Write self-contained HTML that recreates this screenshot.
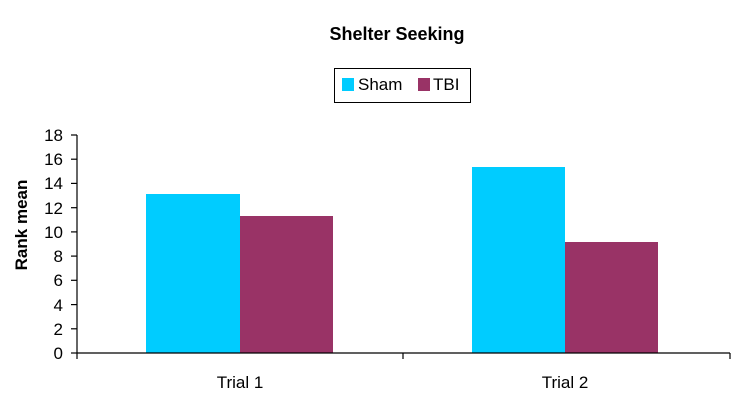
<!DOCTYPE html>
<html><head><style>body{margin:0;background:#fff}</style></head><body>
<svg width="741" height="402" xmlns="http://www.w3.org/2000/svg" font-family="Liberation Sans, Arial, sans-serif">
<rect width="741" height="402" fill="#fff"/>
<text x="397" y="40" font-size="18" font-weight="bold" text-anchor="middle">Shelter Seeking</text>
<rect x="334.5" y="68.5" width="136" height="34" fill="#fff" stroke="#000"/>
<rect x="342" y="78" width="12" height="13" fill="#00CCFF"/>
<text x="358" y="90" font-size="17">Sham</text>
<rect x="418" y="78" width="12" height="13" fill="#993366"/>
<text x="433" y="90" font-size="17">TBI</text>
<rect x="146" y="194" width="94" height="159" fill="#00CCFF"/>
<rect x="240" y="216" width="93" height="137" fill="#993366"/>
<rect x="472" y="167" width="93" height="186" fill="#00CCFF"/>
<rect x="565" y="242" width="93" height="111" fill="#993366"/>
<g stroke="#000" stroke-width="1.2">
<line x1="77" y1="135" x2="77" y2="359"/>
<line x1="77" y1="353" x2="730" y2="353"/>
<line x1="403" y1="353" x2="403" y2="359"/>
<line x1="730" y1="353" x2="730" y2="359"/>
<line x1="71" y1="353" x2="77" y2="353"/><line x1="71" y1="328.8" x2="77" y2="328.8"/>
<line x1="71" y1="304.6" x2="77" y2="304.6"/><line x1="71" y1="280.3" x2="77" y2="280.3"/>
<line x1="71" y1="256.1" x2="77" y2="256.1"/><line x1="71" y1="231.9" x2="77" y2="231.9"/>
<line x1="71" y1="207.7" x2="77" y2="207.7"/><line x1="71" y1="183.4" x2="77" y2="183.4"/>
<line x1="71" y1="159.2" x2="77" y2="159.2"/><line x1="71" y1="135" x2="77" y2="135"/>
</g>
<g font-size="17" text-anchor="end">
<text x="63" y="359">0</text><text x="63" y="335">2</text><text x="63" y="311">4</text>
<text x="63" y="286">6</text><text x="63" y="262">8</text><text x="63" y="238">10</text>
<text x="63" y="214">12</text><text x="63" y="189">14</text><text x="63" y="165">16</text>
<text x="63" y="141">18</text>
</g>
<text transform="translate(27,225) rotate(-90)" font-size="17" font-weight="bold" text-anchor="middle">Rank mean</text>
<text x="240" y="388" font-size="17" text-anchor="middle">Trial 1</text>
<text x="565" y="388" font-size="17" text-anchor="middle">Trial 2</text>
</svg>
</body></html>
